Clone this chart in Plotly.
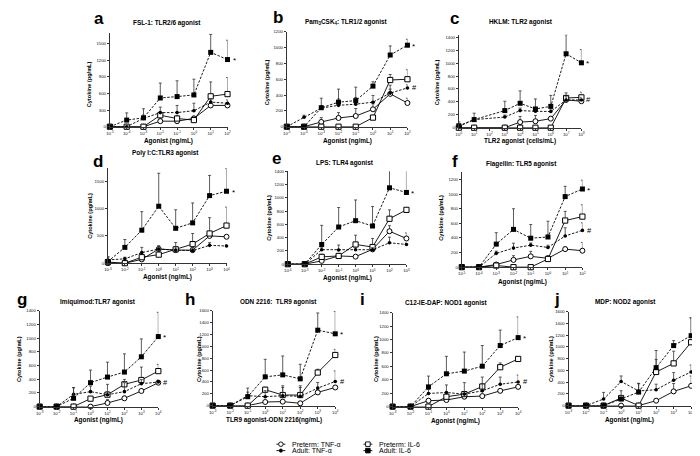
import math
import plotly.graph_objects as go

W, H = 700, 456
FONT = "Liberation Sans, Arial, sans-serif"

# ---------------- data (cytokine pg/mL; *_sem = upper error bar length) ----------------
# a  FSL-1
a_dose = [1e-5, 1e-4, 1e-3, 1e-2, 1e-1, 1e0, 1e1, 1e2]
a_tick_exp = [-5, -4, -3, -2, -1, 0, 1, 2]
a_pre_tnf = [0, 0, 0, 100, 100, 150, 385, 385]
a_pre_tnf_sem = [0, 0, 0, 40, 30, 40, 60, 40]
a_adu_tnf = [0, 0, 150, 255, 255, 290, 445, 425]
a_adu_tnf_sem = [0, 0, 60, 100, 130, 135, 60, 60]
a_pre_il6 = [0, 0, 0, 207, 148, 120, 550, 590]
a_pre_il6_sem = [0, 0, 0, 60, 50, 40, 260, 300]
a_adu_il6 = [0, 120, 160, 520, 545, 575, 1345, 1215]
a_adu_il6_sem = [0, 130, 165, 270, 285, 285, 325, 350]

# b  Pam3CSK4
b_dose = [1e-5, 1e-4, 1e-3, 1e-2, 1e-1, 1e0, 1e1, 1e2]
b_tick_exp = [-5, -4, -3, -2, -1, 0, 1, 2]
b_pre_tnf = [0, 0, 60, 110, 135, 220, 415, 300]
b_pre_tnf_sem = [0, 0, 55, 68, 95, 70, 60, 60]
b_adu_tnf = [0, 120, 235, 270, 285, 310, 425, 490]
b_adu_tnf_sem = [0, 25, 30, 80, 85, 85, 100, 40]
b_pre_il6 = [0, 0, 0, 0, 0, 115, 590, 600]
b_pre_il6_sem = [0, 0, 0, 0, 0, 30, 70, 120]
b_adu_il6 = [0, 0, 240, 310, 330, 513, 906, 1030]
b_adu_il6_sem = [0, 0, 120, 165, 170, 55, 115, 75]

# c  HKLM (cells/mL)
c_dose = [1e0, 1e1, 1e3, 1e4, 1e5, 1e6, 1e7, 1e8]
c_tick_exp = [0, 1, 2, 3, 4, 5, 6, 7, 8]
c_pre_tnf = [0, 0, 0, 87, 100, 140, 430, 410]
c_pre_tnf_sem = [0, 0, 0, 88, 90, 20, 40, 40]
c_adu_tnf = [20, 125, 165, 265, 255, 250, 430, 430]
c_adu_tnf_sem = [20, 30, 30, 40, 30, 40, 50, 40]
c_pre_il6 = [0, 0, 0, 0, 0, 0, 460, 470]
c_pre_il6_sem = [0, 0, 0, 0, 0, 0, 80, 80]
c_adu_il6 = [30, 125, 265, 378, 290, 330, 1145, 1005]
c_adu_il6_sem = [60, 100, 145, 192, 155, 170, 295, 205]

# d  Poly I:C
d_dose = [1e-3, 1e-2, 1e-1, 1e0, 1e1, 1e2, 1e3, 1e4]
d_tick_exp = [-3, -2, -1, 0, 1, 2, 3, 4]
d_pre_tnf = [0, 0, 70, 260, 240, 240, 500, 485]
d_pre_tnf_sem = [0, 0, 30, 50, 40, 40, 80, 20]
d_adu_tnf = [60, 80, 195, 260, 240, 230, 327, 315]
d_adu_tnf_sem = [60, 30, 95, 60, 60, 60, 50, 20]
d_pre_il6 = [20, 0, 110, 157, 255, 350, 545, 690]
d_pre_il6_sem = [30, 0, 80, 80, 125, 195, 290, 340]
d_adu_il6 = [30, 290, 605, 1045, 640, 740, 1240, 1320]
d_adu_il6_sem = [80, 145, 340, 605, 340, 365, 370, 420]

# e  LPS
e_dose = [1e-4, 1e-3, 1e-2, 1e-1, 1e0, 1e1, 1e2, 1e3]
e_tick_exp = [-4, -3, -2, -1, 0, 1, 2, 3]
e_pre_tnf = [0, 0, 50, 124, 114, 223, 496, 387]
e_pre_tnf_sem = [0, 0, 20, 20, 20, 30, 84, 84]
e_adu_tnf = [0, 0, 218, 213, 218, 218, 322, 297]
e_adu_tnf_sem = [0, 0, 30, 75, 30, 30, 85, 20]
e_pre_il6 = [0, 0, 110, 124, 297, 258, 684, 818]
e_pre_il6_sem = [0, 0, 40, 30, 139, 129, 134, 20]
e_adu_il6 = [0, 0, 297, 560, 655, 575, 1150, 1080]
e_adu_il6_sem = [0, 0, 288, 293, 312, 293, 328, 358]

# f  Flagellin
f_dose = [1e-5, 1e-4, 1e-3, 1e-2, 1e-1, 1e0, 1e1, 1e2]
f_tick_exp = [-5, -4, -3, -2, -1, 0, 1, 2]
f_pre_tnf = [0, 0, 36, 99, 148, 121, 247, 225]
f_pre_tnf_sem = [0, 0, 20, 58, 68, 30, 30, 112]
f_adu_tnf = [0, 0, 189, 261, 301, 270, 427, 503]
f_adu_tnf_sem = [0, 0, 30, 67, 30, 30, 112, 104]
f_pre_il6 = [0, 0, 22, 0, 0, 112, 638, 692]
f_pre_il6_sem = [0, 0, 10, 0, 0, 40, 126, 162]
f_adu_il6 = [0, 0, 315, 517, 396, 413, 966, 1070]
f_adu_il6_sem = [0, 0, 157, 283, 188, 216, 140, 121]

# g  Imiquimod
g_dose = [1e-3, 1e-2, 1e-1, 1e0, 1e1, 1e2, 1e3, 1e4]
g_tick_exp = [-3, -2, -1, 0, 1, 2, 3, 4]
g_pre_tnf = [0, 0, 0, 0, 53, 121, 228, 349]
g_pre_tnf_sem = [0, 0, 0, 0, 49, 30, 30, 20]
g_adu_tnf = [0, 0, 179, 218, 174, 218, 334, 358]
g_adu_tnf_sem = [0, 0, 97, 82, 151, 131, 60, 30]
g_pre_il6 = [0, 0, 0, 116, 174, 325, 388, 518]
g_pre_il6_sem = [0, 0, 0, 30, 40, 72, 189, 97]
g_adu_il6 = [0, 0, 121, 349, 431, 504, 727, 1022]
g_adu_il6_sem = [0, 0, 155, 184, 218, 266, 261, 354]

# h  ODN 2216
h_dose = [1e-3, 1e-2, 1e-1, 1e0, 1e1, 1e2, 1e3, 1e4]
h_tick_exp = [-3, -2, -1, 0, 1, 2, 3, 4]
h_pre_tnf = [0, 0, 0, 61, 67, 39, 223, 306]
h_pre_tnf_sem = [0, 0, 0, 20, 20, 20, 40, 30]
h_adu_tnf = [0, 0, 167, 150, 167, 156, 295, 407]
h_adu_tnf_sem = [0, 0, 60, 101, 167, 178, 95, 178]
h_pre_il6 = [0, 0, 0, 268, 178, 178, 557, 853]
h_pre_il6_sem = [0, 0, 0, 40, 128, 128, 56, 95]
h_adu_il6 = [0, 0, 150, 485, 518, 451, 1271, 1210]
h_adu_il6_sem = [0, 0, 145, 295, 318, 246, 290, 379]

# i  C12-IE-DAP
i_dose = [1e-3, 1e-2, 1e-1, 1e0, 1e1, 1e2, 1e3, 1e4]
i_tick_exp = [-3, -2, -1, 0, 1, 2, 3, 4]
i_pre_tnf = [0, 0, 88, 98, 147, 157, 235, 294]
i_pre_tnf_sem = [0, 0, 20, 20, 30, 20, 20, 20]
i_adu_tnf = [0, 0, 196, 210, 186, 235, 333, 367]
i_adu_tnf_sem = [0, 0, 60, 113, 171, 205, 107, 103]
i_pre_il6 = [0, 0, 0, 147, 186, 299, 587, 710]
i_pre_il6_sem = [0, 0, 0, 30, 40, 40, 64, 20]
i_adu_il6 = [0, 0, 294, 489, 529, 602, 910, 1028]
i_adu_il6_sem = [0, 0, 161, 260, 284, 308, 230, 308]

# j  MDP
j_dose = [1e-3, 1e-2, 1e-1, 1e0, 1e1, 1e2, 1e3, 1e4]
j_tick_exp = [-3, -2, -1, 0, 1, 2, 3, 4]
j_pre_tnf = [0, 0, 0, 0, 0, 84, 242, 337]
j_pre_tnf_sem = [0, 0, 0, 0, 0, 20, 134, 168]
j_adu_tnf = [0, 0, 112, 410, 250, 270, 433, 573]
j_adu_tnf_sem = [0, 0, 113, 95, 123, 95, 129, 118]
j_pre_il6 = [0, 0, 0, 129, 0, 573, 719, 1079]
j_pre_il6_sem = [0, 0, 0, 124, 0, 214, 208, 410]
j_adu_il6 = [0, 0, 0, 112, 230, 646, 1022, 1191]
j_adu_il6_sem = [0, 0, 0, 60, 150, 292, 85, 309]

titles = {
    "a": "FSL-1: TLR2/6 agonist",
    "b": "Pam<sub>3</sub>CSK<sub>4</sub>: TLR1/2 agonist",
    "c": "HKLM: TLR2 agonist",
    "d": "Poly I:C:TLR3 agonist",
    "e": "LPS: TLR4 agonist",
    "f": "Flagellin: TLR5 agonist",
    "g": "Imiquimod:TLR7 agonist",
    "h": "ODN 2216:  TLR9 agonist",
    "i": "C12-IE-DAP: NOD1 agonist",
    "j": "MDP: NOD2 agonist",
}
xtitles = {
    "c": "TLR2 agonist (cells/mL)",
    "h": "TLR9 agonist-ODN 2216(ng/mL)",
}
hash_panels = ["b", "c", "f", "g", "h", "i", "j"]
series_names = ["Preterm: TNF-\u03b1", "Adult: TNF-\u03b1", "Preterm: IL-6", "Adult: IL-6"]

# ---------------- layout geometry (pixels) ----------------
# key: (x0, x1, ytop, ybottom, ymax, dtick, title_cx, title_cy, letter_cx, letter_cy,
#       xtitle_cy, ytitle_cx, ytitle_cy)
geom = {
    "a": (99, 218, 23, 118, 1700, 300, 157, 13, 88, 9, 132, 78, 75),
    "b": (278, 400, 22, 118, 1200, 200, 338, 12, 269, 8, 132, 258, 73),
    "c": (452, 576, 25, 119, 1440, 200, 515, 12, 448, 9, 132, 430, 73),
    "d": (97, 217, 160, 256, 1742, 500, 155, 145, 87, 153, 270, 79, 208),
    "e": (279, 399, 163, 257, 1400, 200, 337, 155, 268, 150, 271, 260, 210),
    "f": (455, 577, 164, 260, 1300, 200, 515, 156, 448, 153, 275, 434, 210),
    "g": (28, 148, 304, 401, 1400, 200, 87, 295, 10, 293, 414.5, 7, 353),
    "h": (203, 327, 304, 400, 1600, 200, 270, 295, 180, 293, 414.5, 189, 353),
    "i": (385, 512, 306, 401, 1400, 200, 440, 296, 355, 293, 415.5, 368, 353),
    "j": (563, 687, 305, 400, 1600, 200, 621, 295, 551, 293, 415, 545, 353),
}

data = {k: dict(dose=globals()[k + "_dose"], ticks=globals()[k + "_tick_exp"],
                pre_tnf=globals()[k + "_pre_tnf"], pre_tnf_sem=globals()[k + "_pre_tnf_sem"],
                adu_tnf=globals()[k + "_adu_tnf"], adu_tnf_sem=globals()[k + "_adu_tnf_sem"],
                pre_il6=globals()[k + "_pre_il6"], pre_il6_sem=globals()[k + "_pre_il6_sem"],
                adu_il6=globals()[k + "_adu_il6"], adu_il6_sem=globals()[k + "_adu_il6_sem"])
        for k in "abcdefghij"}

styles = {
    "pre_tnf": dict(line=dict(color="black", width=0.9),
                    marker=dict(symbol="circle", size=5, color="white", line=dict(color="black", width=1))),
    "adu_tnf": dict(line=dict(color="black", width=0.9, dash="2.5px,1.5px"),
                    marker=dict(symbol="circle", size=3.6, color="black", line=dict(width=0))),
    "pre_il6": dict(line=dict(color="black", width=0.9),
                    marker=dict(symbol="square", size=5.2, color="white", line=dict(color="black", width=1))),
    "adu_il6": dict(line=dict(color="black", width=0.9, dash="2.5px,1.5px"),
                    marker=dict(symbol="square", size=5, color="black", line=dict(width=0))),
}
order = ["pre_tnf", "pre_il6", "adu_tnf", "adu_il6"]

def px(x):
    return x / W

def py(y):
    return 1 - y / H

fig = go.Figure()
layout = dict(width=W, height=H, margin=dict(l=0, r=0, t=0, b=0),
              paper_bgcolor="white", plot_bgcolor="white", showlegend=False,
              font=dict(family=FONT, color="black"))
annotations = []
shapes = []

for idx, key in enumerate("abcdefghij"):
    n = idx + 1
    xr = "x" if n == 1 else f"x{n}"
    yr = "y" if n == 1 else f"y{n}"
    xa = "xaxis" if n == 1 else f"xaxis{n}"
    ya = "yaxis" if n == 1 else f"yaxis{n}"
    (x0, x1, yt, yb, ymax, dt, tcx, tcy, lcx, lcy, xtcy, ytcx, ytcy) = geom[key]
    p = data[key]
    tickvals = [10.0 ** e for e in p["ticks"]]
    ticktext = [f"10<sup>{e}</sup>" for e in p["ticks"]]
    layout[xa] = dict(domain=[px(x0), px(x1)], anchor=yr, type="log",
                      range=[min(p["ticks"]), max(p["ticks"])],
                      tickvals=tickvals, ticktext=ticktext, tickangle=0,
                      ticks="outside", ticklen=2, tickwidth=0.8, tickcolor="#333",
                      showline=True, linecolor="#333", linewidth=1,
                      showgrid=False, zeroline=False,
                      tickfont=dict(size=4.3, family=FONT, color="#111"))
    layout[ya] = dict(domain=[py(yb), py(yt)], anchor=xr, range=[0, ymax],
                      tick0=0, dtick=dt, ticks="outside", ticklen=2, tickwidth=0.8,
                      tickcolor="#333", showline=True, linecolor="#333", linewidth=1,
                      showgrid=False, zeroline=False,
                      tickfont=dict(size=4.3, family=FONT, color="#111"))
    for s in order:
        vals = p[s]
        sem = p[s + "_sem"]
        fig.add_trace(go.Scatter(
            x=p["dose"], y=vals, xaxis=xr, yaxis=yr, mode="lines+markers",
            line=styles[s]["line"], marker=styles[s]["marker"],
            error_y=dict(type="data", symmetric=False, array=sem,
                         arrayminus=[0] * len(sem), color="#333",
                         thickness=0.8, width=1.5),
            cliponaxis=False, showlegend=False, hoverinfo="skip"))
    lastx = math.log10(p["dose"][-1])
    annotations.append(dict(xref=xr, yref=yr, x=lastx, y=p["adu_il6"][-1], text="*",
                            showarrow=False, xanchor="left", yanchor="middle", xshift=3,
                            yshift=-1, font=dict(size=8, family=FONT)))
    if key in hash_panels:
        annotations.append(dict(xref=xr, yref=yr, x=lastx, y=p["adu_tnf"][-1], text="#",
                                showarrow=False, xanchor="left", yanchor="middle", xshift=3,
                                font=dict(size=7.5, family=FONT)))
    # panel title
    annotations.append(dict(xref="paper", yref="paper", x=px(tcx), y=py(tcy),
                            text="<b>" + titles[key] + "</b>", showarrow=False,
                            xanchor="center", yanchor="middle",
                            font=dict(size=6.4, family=FONT)))
    # panel letter
    annotations.append(dict(xref="paper", yref="paper", x=px(lcx), y=py(lcy),
                            text="<b>" + key + "</b>", showarrow=False,
                            xanchor="center", yanchor="middle",
                            font=dict(size=17, family=FONT)))
    # x title
    annotations.append(dict(xref="paper", yref="paper", x=px((x0 + x1) / 2), y=py(xtcy),
                            text="<b>" + xtitles.get(key, "Agonist (ng/mL)") + "</b>",
                            showarrow=False, xanchor="center", yanchor="middle",
                            font=dict(size=6.4, family=FONT)))
    # y title
    annotations.append(dict(xref="paper", yref="paper", x=px(ytcx), y=py(ytcy),
                            text="<b>Cytokine (pg/mL)</b>", textangle=-90,
                            showarrow=False, xanchor="center", yanchor="middle",
                            font=dict(size=5.6, family=FONT)))

# ---------------- legend (drawn manually) ----------------
leg = [
    (272, 439, "pre_tnf", series_names[0]),
    (272, 445.5, "adu_tnf", series_names[1]),
    (360, 439, "pre_il6", series_names[2]),
    (360, 445.5, "adu_il6", series_names[3]),
]
for cx, cy, s, label in leg:
    dash = "dot" if s.startswith("adu") else "solid"
    shapes.append(dict(type="line", xref="paper", yref="paper",
                       x0=px(cx - 4.5), x1=px(cx + 4.5), y0=py(cy), y1=py(cy),
                       line=dict(color="black", width=0.9, dash=dash)))
    filled = s.startswith("adu")
    r = 1.6 if s == "adu_tnf" else 2.3
    shapes.append(dict(type="circle" if "tnf" in s else "rect", xref="paper", yref="paper",
                       x0=px(cx - r), x1=px(cx + r), y0=py(cy + r), y1=py(cy - r),
                       fillcolor="black" if filled else "white",
                       line=dict(color="black", width=0.9)))
    annotations.append(dict(xref="paper", yref="paper", x=px(cx + 9), y=py(cy),
                            text=label, showarrow=False, xanchor="left", yanchor="middle",
                            font=dict(size=7, family=FONT)))

layout["annotations"] = annotations
layout["shapes"] = shapes
fig.update_layout(**layout)
fig.write_html("out.html")
